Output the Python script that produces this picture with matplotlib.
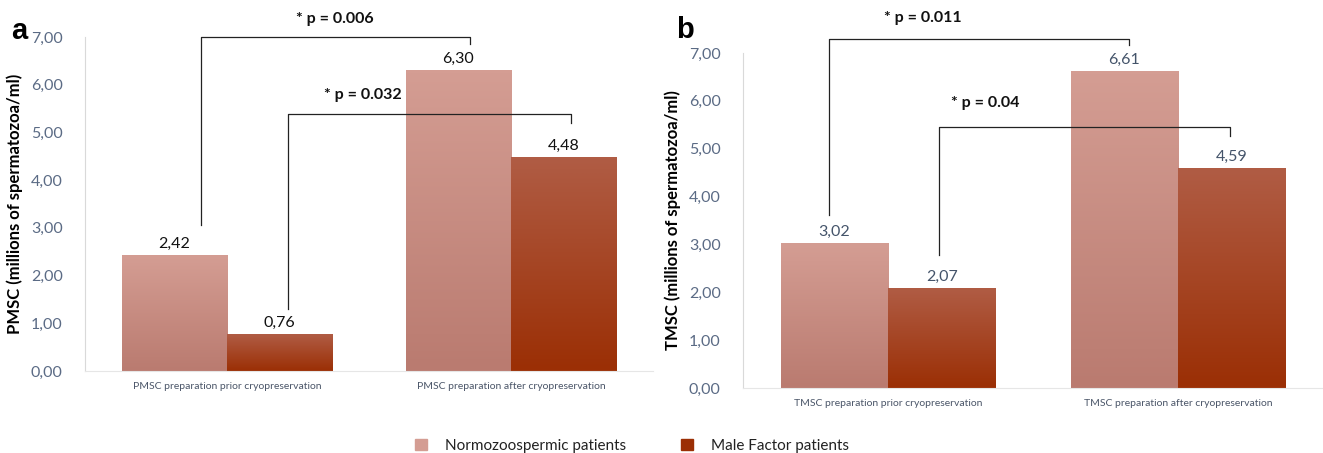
import numpy as np
import matplotlib
matplotlib.use("Agg")
import matplotlib.pyplot as plt
from matplotlib.colors import LinearSegmentedColormap
from matplotlib.patches import Rectangle

plt.rcParams["font.family"] = ["Lato", "DejaVu Sans"]

# data
series = ["Normozoospermic patients", "Male Factor patients"]
pmsc_cats = ["PMSC preparation prior cryopreservation",
             "PMSC preparation after cryopreservation"]
pmsc_normo = [2.42, 6.30]
pmsc_male = [0.76, 4.48]
tmsc_cats = ["TMSC preparation prior cryopreservation",
             "TMSC preparation after cryopreservation"]
tmsc_normo = [3.02, 6.61]
tmsc_male = [2.07, 4.59]
yticks = np.arange(0, 8, 1)

# significance brackets: (label, x_left, y_left, y_top, x_right, y_right, text_x, text_y)
pmsc_sig = [("* p = 0.006", -0.090, 3.06, 7.0, 0.856, 6.85, 0.38, 7.38),
            ("* p = 0.032", 0.215, 1.30, 5.39, 1.211, 5.20, 0.479, 5.78)]
tmsc_sig = [("* p = 0.011", -0.203, 3.61, 7.29, 0.831, 7.17, 0.121, 7.73),
            ("* p = 0.04", 0.175, 2.78, 5.45, 1.179, 5.27, 0.334, 5.95)]

NORMO = ("#d49d93", "#ba7b70")
MALE = ("#b05c44", "#9b2f05")
TICK_C = "#5b6b85"
W, H = 1323, 453


def grad_bar(ax, x0, w, h, cols):
    # plain bar underneath, gradient image on top
    ax.add_patch(Rectangle((x0, 0), w, h, fc=cols[0], ec="#f0d6d1",
                           lw=0.6, zorder=1.5))
    cmap = LinearSegmentedColormap.from_list("g", [cols[1], cols[0]])
    g = np.linspace(0, 1, 64).reshape(-1, 1)
    ax.imshow(g, extent=(x0, x0 + w, 0, h), origin="lower", cmap=cmap,
              aspect="auto", interpolation="bicubic", zorder=2)


def fmt(v):
    return f"{v:.2f}".replace(".", ",")


def panel(ax, cats, normo, male, sig, ylabel, lab_color):
    bw = 0.37
    x = np.arange(len(cats))
    for i in x:
        grad_bar(ax, i - bw, bw, normo[i], NORMO)
        grad_bar(ax, i, bw, male[i], MALE)
        ax.text(i - bw / 2, normo[i] + 0.1, fmt(normo[i]),
                ha="center", va="bottom", fontsize=11.5, color=lab_color)
        ax.text(i + bw / 2, male[i] + 0.1, fmt(male[i]),
                ha="center", va="bottom", fontsize=11.5, color=lab_color)
    ax.set_xlim(-0.5, 1.5)
    ax.set_ylim(0, 7)
    ax.set_yticks(yticks)
    ax.set_yticklabels([fmt(v) for v in yticks], color=TICK_C, fontsize=11.5)
    ax.set_xticks(x)
    ax.set_xticklabels(cats, fontsize=7.5, color="#4a5568")
    ax.tick_params(length=0, pad=8)
    ax.tick_params(axis="y", pad=16)
    for s in ["top", "right"]:
        ax.spines[s].set_visible(False)
    ax.spines["left"].set_color("#d9d9d9")
    ax.spines["bottom"].set_color("#e6e6e6")
    ax.set_ylabel(ylabel, fontsize=12, fontweight="bold", labelpad=6)
    for lab, xl, yl, yt, xr, yr, tx, ty in sig:
        ax.plot([xl, xl, xr, xr], [yl, yt, yt, yr], color="#222222", lw=0.9,
                clip_on=False, zorder=4)
        ax.text(tx, ty, lab, ha="center", va="center", fontsize=11.5,
                fontweight="bold", color="#111111")


fig = plt.figure(figsize=(W / 100, H / 100), dpi=100)
ax1 = fig.add_axes([85 / W, (H - 371) / H, 568 / W, 334 / H])
ax2 = fig.add_axes([743 / W, (H - 388) / H, 580 / W, 335 / H])
panel(ax1, pmsc_cats, pmsc_normo, pmsc_male, pmsc_sig,
      "PMSC (millions of spermatozoa/ml)", "#111111")
panel(ax2, tmsc_cats, tmsc_normo, tmsc_male, tmsc_sig,
      "TMSC (millions of spermatozoa/ml)", "#44546a")

# panel letters
fig.text(19 / W, 1 - 31 / H, "a", fontsize=21, fontweight="bold",
         family="Liberation Sans", ha="center", va="center")
fig.text(685 / W, 1 - 30 / H, "b", fontsize=21, fontweight="bold",
         family="Liberation Sans", ha="center", va="center")

# legend
handles = [Rectangle((0, 0), 1, 1, color=NORMO[0]), Rectangle((0, 0), 1, 1, color=MALE[1])]
fig.legend(handles, series, loc="center", bbox_to_anchor=(632 / W, 1 - 446 / H),
           ncol=2, frameon=False, fontsize=11, handlelength=0.75, handleheight=0.75,
           columnspacing=3.6, handletextpad=1.2, labelcolor="#222222")

fig.savefig("out.png", dpi=100)
